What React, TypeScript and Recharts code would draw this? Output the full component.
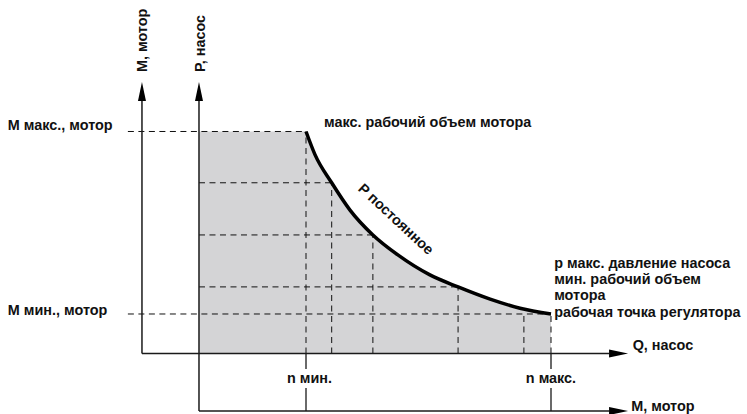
import React from 'react';
import { ComposedChart, XAxis, YAxis, Area, Line, ReferenceLine, ReferenceDot } from 'recharts';

// Units: n (speed / flow) — P axis = 0, n max = 100; M (torque) — Q axis = 0, M max = 100
const curveN = [30.4, 32.95, 37.7, 42.9, 49.4, 56.5, 65.6, 73.6, 82.7, 91.2, 100];
const curveM = [100, 89.6, 76.9, 64.6, 53.4, 44.4, 35.4, 30.0, 24.5, 20.4, 17.8];
const flatN = [0, 30.4];
const flatM = [100, 100];

// horizontal dashed grid lines (M levels) with their start/end n
const gridM = [100, 76.9, 53.4, 30.0, 17.8];
const gridMStart = [-20.2, 0, 0, 0, -20.2];
const gridMEnd = [30.4, 37.7, 49.4, 73.6, 100];
// vertical dashed grid lines (n levels) with their top M
const gridN = [30.4, 37.7, 49.4, 73.6, 92.3, 100];
const gridNTop = [100, 76.9, 53.4, 30.0, 17.8, 17.8];

const nMin = 30.4;
const nMax = 100;
const axisM_X = -16.2;
const axisTopM = 122.3;
const axisRightN = 121.9;
const bottomAxisM = -25.9;

const X_DOMAIN: [number, number] = [-56.53, 155.68];
const Y_DOMAIN: [number, number] = [-27.25, 159.23];

const FONT = '"Liberation Sans", Arial, sans-serif';
const FS = 14.4;

const merged: { n: number; flat?: number; curve?: number }[] = [];
flatN.forEach((n, i) => merged.push({ n, flat: flatM[i] }));
curveN.forEach((n, i) => {
  const ex = merged.find((m) => m.n === n);
  if (ex) ex.curve = curveM[i];
  else merged.push({ n, curve: curveM[i] });
});
merged.sort((a, b) => a.n - b.n);

const arrowShape = (p: any) => {
  const { x1, y1, x2, y2 } = p;
  const dx = x2 - x1;
  const dy = y2 - y1;
  const len = Math.sqrt(dx * dx + dy * dy) || 1;
  const ux = dx / len;
  const uy = dy / len;
  const L = 19;
  const W = 4;
  const bx = x2 - ux * L;
  const by = y2 - uy * L;
  const pts = `${x2},${y2} ${bx - uy * W},${by + ux * W} ${bx + uy * W},${by - ux * W}`;
  return (
    <g>
      <line x1={x1} y1={y1} x2={bx} y2={by} stroke="#1a1a1a" strokeWidth={1.5} />
      <polygon points={pts} fill="#000" />
    </g>
  );
};

const plainShape = (p: any) => (
  <line x1={p.x1} y1={p.y1} x2={p.x2} y2={p.y2} stroke="#1a1a1a" strokeWidth={1.3} />
);

type Lbl = { n: number; m: number; text: string; anchor?: string; rotate?: number };
const labels: Lbl[] = [
  { n: -54.3, m: 102.9, text: 'M макс., мотор' },
  { n: -54.3, m: 19.6, text: 'M мин., мотор' },
  { n: 35.5, m: 104.3, text: 'макс. рабочий объем мотора' },
  { n: 100.9, m: 40.9, text: 'р макс. давление насоса' },
  { n: 100.9, m: 33.6, text: 'мин. рабочий объем' },
  { n: 100.9, m: 26.4, text: 'мотора' },
  { n: 100.9, m: 18.9, text: 'рабочая точка регулятора' },
  { n: 123.2, m: 3.8, text: 'Q, насос' },
  { n: 31.4, m: -11.0, text: 'n мин.', anchor: 'middle' },
  { n: 100, m: -11.0, text: 'n макс.', anchor: 'middle' },
  { n: 122.8, m: -23.6, text: 'M, мотор' },
  { n: -16.05, m: 126.8, text: 'M, мотор', rotate: -90 },
  { n: 0.3, m: 126.8, text: 'P, насос', rotate: -90 },
  { n: 56.0, m: 60.6, text: 'P постоянное', anchor: 'middle', rotate: 43 },
];

const textShape = (l: Lbl) => (p: any) => {
  const { cx, cy } = p;
  return (
    <text
      x={cx}
      y={cy}
      textAnchor={l.anchor || 'start'}
      dominantBaseline="central"
      fontFamily={FONT}
      fontWeight="bold"
      fontSize={FS}
      fill="#111"
      transform={l.rotate ? `rotate(${l.rotate} ${cx} ${cy})` : undefined}
    >
      {l.text}
    </text>
  );
};

export default function App() {
  return (
    <div style={{ position: 'absolute', left: 0, top: 0, width: 747, height: 414, background: '#fff' }}>
      <ComposedChart width={747} height={414} data={merged} margin={{ top: 0, right: 0, bottom: 0, left: 0 }}>
        <XAxis dataKey="n" type="number" domain={X_DOMAIN} allowDataOverflow hide />
        <YAxis type="number" domain={Y_DOMAIN} allowDataOverflow hide />
        <Area
          dataKey="flat"
          type="linear"
          baseValue={0}
          fill="#d4d4d6"
          fillOpacity={1}
          stroke="none"
          isAnimationActive={false}
          dot={false}
          activeDot={false}
        />
        <Area
          dataKey="curve"
          type="monotone"
          baseValue={0}
          fill="#d4d4d6"
          fillOpacity={1}
          stroke="none"
          isAnimationActive={false}
          dot={false}
          activeDot={false}
        />
        {gridM.map((m, i) => (
          <ReferenceLine
            key={`gm${i}`}
            segment={[{ x: gridMStart[i], y: m }, { x: gridMEnd[i], y: m }]}
            stroke="#111"
            strokeWidth={1}
            strokeDasharray="6 4.5"
            ifOverflow="visible"
          />
        ))}
        {gridN.map((n, i) => (
          <ReferenceLine
            key={`gn${i}`}
            segment={[{ x: n, y: 0 }, { x: n, y: gridNTop[i] }]}
            stroke="#111"
            strokeWidth={1}
            strokeDasharray="6 4.5"
            ifOverflow="visible"
          />
        ))}
        {[nMin, nMax].map((n, i) => (
          <ReferenceLine key={`nb${i}a`} segment={[{ x: n, y: 0 }, { x: n, y: -7.0 }]} shape={plainShape} ifOverflow="visible" />
        ))}
        {[nMin, nMax].map((n, i) => (
          <ReferenceLine key={`nb${i}b`} segment={[{ x: n, y: -15.5 }, { x: n, y: bottomAxisM }]} shape={plainShape} ifOverflow="visible" />
        ))}
        <Line
          dataKey="curve"
          type="monotone"
          stroke="#000"
          strokeWidth={3.5}
          dot={false}
          activeDot={false}
          isAnimationActive={false}
        />
        <ReferenceLine segment={[{ x: axisM_X, y: 0 }, { x: axisM_X, y: axisTopM }]} shape={arrowShape} ifOverflow="visible" />
        <ReferenceLine segment={[{ x: 0, y: bottomAxisM }, { x: 0, y: axisTopM }]} shape={arrowShape} ifOverflow="visible" />
        <ReferenceLine segment={[{ x: axisM_X, y: 0 }, { x: axisRightN, y: 0 }]} shape={arrowShape} ifOverflow="visible" />
        <ReferenceLine segment={[{ x: 0, y: bottomAxisM }, { x: axisRightN, y: bottomAxisM }]} shape={arrowShape} ifOverflow="visible" />
        {labels.map((l, i) => (
          <ReferenceDot key={`l${i}`} x={l.n} y={l.m} r={0} ifOverflow="visible" shape={textShape(l)} />
        ))}
      </ComposedChart>
    </div>
  );
}
